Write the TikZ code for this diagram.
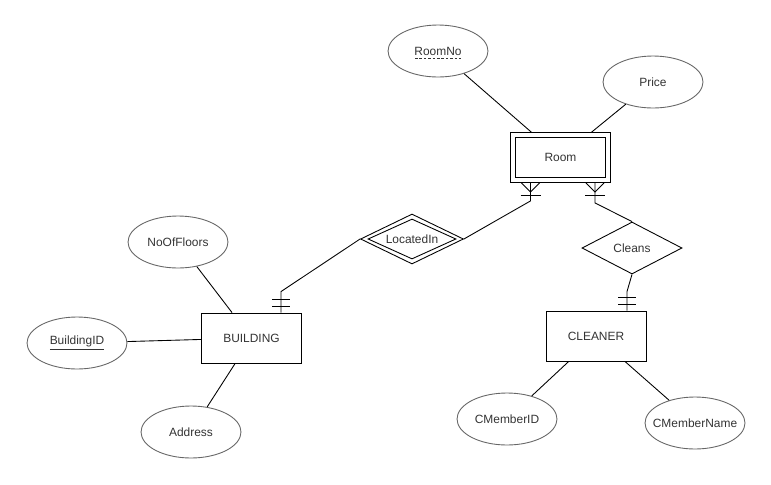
\documentclass[tikz,border=0pt]{standalone}
\usepackage{fontspec}
\setmainfont{Liberation Sans}
\usetikzlibrary{shapes.geometric,calc}

\begin{document}
\begin{tikzpicture}[x=0.02cm,y=-0.02cm,line width=0.5pt,
		font=\fontsize{6.8}{8}\selectfont,
		entity/.style={draw,minimum width=2cm,minimum height=1cm,text=black!80,inner sep=0pt},
		attr/.style={draw=black!60,ellipse,minimum width=2cm,minimum height=1.04cm,text=black!80,inner xsep=-5pt,inner ysep=0pt},
		rel/.style={draw,diamond,aspect=2.5,minimum width=2cm,minimum height=1.04cm,text=black!80,inner sep=0pt},
		manyone/.pic={\draw (-9,0) -- (0,9) -- (9,0); \draw (-10,12) -- (10,12);},
		onlyone/.pic={\draw (-9,-13) -- (9,-13); \draw (-9,-6) -- (9,-6);}
		]
		\useasboundingbox (0,0) rectangle (771,484);
		%Draw entities
		\node[entity] (room) at (560.5,157.5) {};
		\node[entity,minimum width=1.8cm,minimum height=0.8cm] (roominner) at (room) {Room};
		\node[entity] (building) at (251.5,338) {BUILDING};
		\node[entity] (cleaner) at (596,336) {CLEANER};
		%Draw relationships
		\node[rel,minimum width=2.06cm,minimum height=1cm] (located) at (412,239) {};
		\node[rel,minimum width=1.76cm,minimum height=0.8cm] (locatedinner) at (located) {LocatedIn};
		\node[rel] (cleans) at (632,248) {Cleans};
		%Draw attributes
		\node[attr] (roomno) at (438,51) {RoomNo};
		\draw[black!80,line width=0.4pt,dash pattern=on 1.5pt off 1pt] ($(roomno.center)+(-23,7)$) -- ($(roomno.center)+(23,7)$);
		\node[attr] (price) at (653,82) {Price};
		\node[attr] (nofloors) at (178,242) {NoOfFloors};
		\node[attr] (buildingid) at (77,343) {\underline{BuildingID}};
		\node[attr] (address) at (191,432) {Address};
		\node[attr] (cmemberid) at (507,419) {CMemberID};
		\node[attr] (cmembername) at (695,423) {CMemberName};
		
		\draw (roomno) -- (room);
		\draw (price) -- (room);
		\draw (nofloors) -- (building);
		\draw (buildingid) -- (building);
		\draw (address) -- (building);
		\draw (cleaner) -- (cmemberid);
		\draw (cleaner) -- (cmembername);
		%Draw relationship lines
		\coordinate (roomleft) at ($(room.south)+(-30,0)$);
		\coordinate (roomright) at ($(room.south)+(34.5,0)$);
		\coordinate (buildingtop) at ($(building.north)+(29.5,0)$);
		\coordinate (cleanertop) at ($(cleaner.north)+(31,0)$);
		\draw (roomleft) -- ++(0,18) -- (located.east);
		\draw (roomright) -- ++(0,20) -- (cleans.north);
		\draw (located.west) -- ($(buildingtop)+(0,-21)$) -- (buildingtop);
		\draw (cleans.south) -- ($(cleanertop)+(0,-19)$) -- (cleanertop);
		\pic at (roomleft) {manyone};
		\pic at (roomright) {manyone};
		\pic at (buildingtop) {onlyone};
		\pic at (cleanertop) {onlyone};
	\end{tikzpicture}
\end{document}
